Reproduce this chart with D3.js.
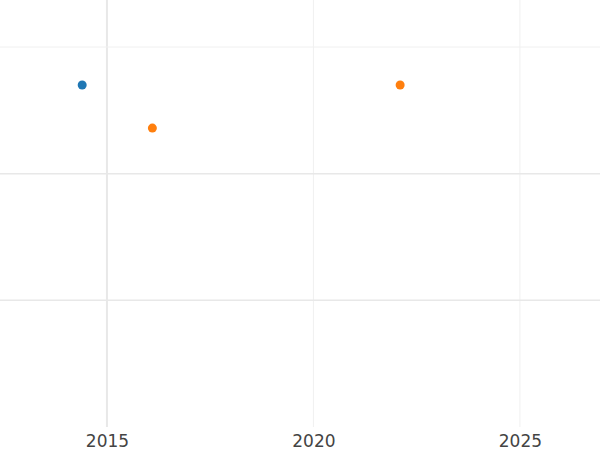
<!DOCTYPE html>
<html>
<head>
<meta charset="utf-8">
<script src="https://cdn.jsdelivr.net/npm/d3@7"></script>
<style>
  body { margin: 0; background: #fff; }
  svg { display: block; }
</style>
</head>
<body>
<svg id="chart" width="600" height="450"></svg>
<script>
// data
var blueYears = [2014.4];
var blueValues = [2.7];
var orangeYears = [2016.1, 2022.1];
var orangeValues = [2.36, 2.7];
var xTicks = [2015, 2020, 2025];
var yGrid = [1, 2, 3];

var svg = d3.select('#chart');
var x = d3.scaleLinear().domain([2012.41, 2026.94]).range([0, 600]);
var y = d3.scaleLinear().domain([0, 3]).range([427, 47]);

// vertical grid
svg.append('g').selectAll('line').data(xTicks).enter().append('line')
    .attr('x1', function(d) { return x(d); })
    .attr('x2', function(d) { return x(d); })
    .attr('y1', 0).attr('y2', 427)
    .attr('stroke', function(d) { return d === 2015 ? '#e8e8e8' : '#f0f0f0'; })
    .attr('stroke-width', function(d) { return d === 2015 ? 2 : 1; });

// horizontal grid
svg.append('g').selectAll('line').data(yGrid).enter().append('line')
    .attr('x1', 0).attr('x2', 600)
    .attr('y1', function(d) { return y(d); })
    .attr('y2', function(d) { return y(d); })
    .attr('stroke', function(d) { return d === 3 ? '#f0f0f0' : '#e8e8e8'; })
    .attr('stroke-width', function(d) { return d === 3 ? 1 : 1.5; });

// x tick labels
var xAxis = d3.axisBottom(x).tickValues(xTicks).tickFormat(d3.format('d')).tickSize(0).tickPadding(8);
var ax = svg.append('g').attr('transform', 'translate(0,427)').call(xAxis);
ax.select('.domain').remove();
ax.selectAll('text')
    .attr('font-family', 'DejaVu Sans, sans-serif')
    .attr('font-size', '17px')
    .attr('fill', '#444');

// points
function drawSeries(xs, ys, color) {
    svg.append('g').selectAll('circle').data(xs).enter().append('circle')
        .attr('cx', function(d) { return x(d); })
        .attr('cy', function(d, i) { return y(ys[i]); })
        .attr('r', 4.5)
        .attr('fill', color);
}
drawSeries(blueYears, blueValues, '#1f77b4');
drawSeries(orangeYears, orangeValues, '#ff7f0e');
</script>
</body>
</html>
